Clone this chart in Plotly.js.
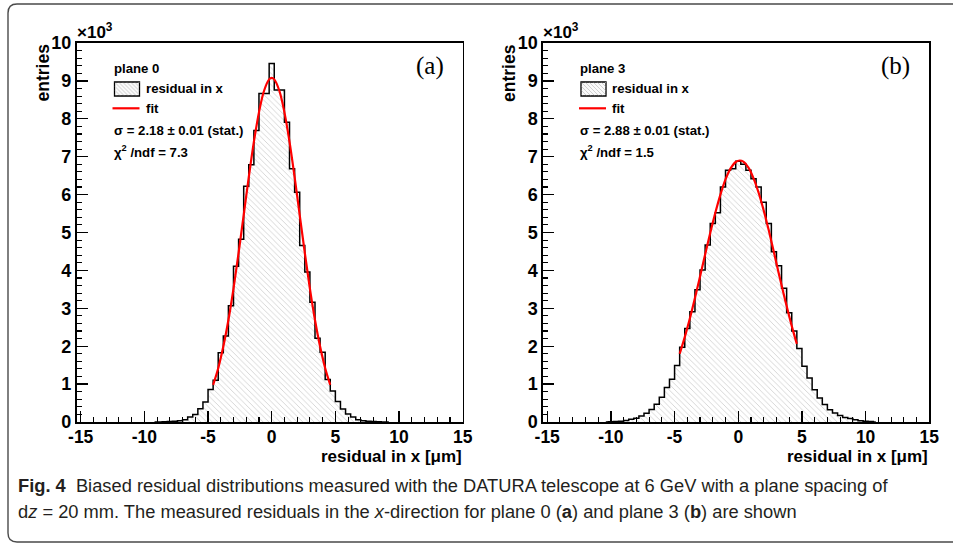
<!DOCTYPE html>
<html>
<head>
<meta charset="utf-8">
<script src="https://cdn.plot.ly/plotly-3.0.1.min.js"></script>
<style>html,body{margin:0;padding:0;background:#fff;}#chart{width:953px;height:544px;}</style>
</head>
<body>
<div id="chart"></div>
<script>
// ---- data (entries in units of 10^3) ----
const xLeft = [-9.2,-8.8,-8.4,-8.0,-7.6,-7.2,-6.8,-6.4,-6.0,-5.6,-5.2,-4.8,-4.4,-4.0,-3.6,-3.2,-2.8,-2.4,-2.0,-1.6,-1.2,-0.8,-0.4,0,0.4,0.8,1.2,1.6,2.0,2.4,2.8,3.2,3.6,4.0,4.4,4.8,5.2,5.6,6.0,6.4,6.8,7.2,7.6,8.0,8.4,8.8,9.2];
const yLeft = [0,0,0.005,0.01,0.02,0.03,0.06,0.13,0.2,0.35,0.53,0.86,1.1,1.83,2.27,3.07,4.11,4.82,6.22,6.79,7.69,8.67,8.67,9.46,8.76,8.76,7.91,6.68,6.06,4.66,3.96,3.16,2.21,1.84,1.12,0.82,0.54,0.34,0.21,0.13,0.06,0.03,0.02,0.01,0.005,0,0];
const xFitLeft = [-4.6,-4.2,-3.8,-3.4,-3.0,-2.6,-2.2,-1.8,-1.4,-1.0,-0.6,-0.2,0,0.2,0.6,1.0,1.4,1.8,2.2,2.6,3.0,3.4,3.8,4.2,4.6];
const yFitLeft = [0.98,1.42,1.99,2.69,3.52,4.46,5.46,6.46,7.39,8.17,8.74,9.04,9.08,9.04,8.74,8.17,7.39,6.46,5.46,4.46,3.52,2.69,1.99,1.42,0.98];

const xRight = [-10.4,-10.0,-9.6,-9.2,-8.8,-8.4,-8.0,-7.6,-7.2,-6.8,-6.4,-6.0,-5.6,-5.2,-4.8,-4.4,-4.0,-3.6,-3.2,-2.8,-2.4,-2.0,-1.6,-1.2,-0.8,-0.4,0,0.4,0.8,1.2,1.6,2.0,2.4,2.8,3.2,3.6,4.0,4.4,4.8,5.2,5.6,6.0,6.4,6.8,7.2,7.6,8.0,8.4,8.8,9.2,9.6,10.0,10.4,10.8];
const yRight = [0,0.005,0.01,0.02,0.04,0.07,0.1,0.16,0.23,0.33,0.47,0.65,0.91,1.13,1.49,1.97,2.47,2.91,3.49,4.01,4.67,5.24,5.52,6.2,6.64,6.68,6.88,6.8,6.64,6.42,6.2,5.8,5.24,4.49,4.12,3.53,2.88,2.40,1.94,1.47,1.16,0.85,0.63,0.46,0.32,0.24,0.17,0.12,0.09,0.06,0.03,0.02,0.01,0];
const xFitRight = [-4.6,-4.2,-3.8,-3.4,-3.0,-2.6,-2.2,-1.8,-1.4,-1.0,-0.6,-0.2,0.12,0.4,0.8,1.2,1.6,2.0,2.4,2.8,3.2,3.6,4.0,4.3,4.6];
const yFitRight = [1.80,2.24,2.73,3.27,3.84,4.42,4.99,5.52,6.00,6.40,6.69,6.86,6.9,6.87,6.71,6.43,6.05,5.58,5.05,4.48,3.89,3.33,2.79,2.41,2.06];

const xTicks = [-15,-10,-5,0,5,10,15];
const yTicks = [0,1,2,3,4,5,6,7,8,9,10];
const panels = [
  {plane: 'plane 0', sigma: '2.18', chi2: '7.3', tag: '(a)'},
  {plane: 'plane 3', sigma: '2.88', chi2: '1.5', tag: '(b)'}
];

// ---- helpers: pixel -> paper ----
const W = 953, H = 544;
const X = p => p / W;
const Y = p => (H - p) / H;

const FONT = 'Liberation Sans, Arial, Helvetica, sans-serif';
const hatch = {shape: '\\', fgcolor: '#c8c8c8', bgcolor: '#ffffff', size: 4, solidity: 0.18};

function histTrace(x, y, xa, ya) {
  return {x: x, y: y, xaxis: xa, yaxis: ya, type: 'scatter', mode: 'lines',
    line: {shape: 'hvh', color: '#000', width: 1.5},
    fill: 'tozeroy', fillcolor: '#ffffff', fillpattern: hatch,
    hoverinfo: 'skip', showlegend: false};
}
function fitTrace(x, y, xa, ya) {
  return {x: x, y: y, xaxis: xa, yaxis: ya, type: 'scatter', mode: 'lines',
    line: {shape: 'spline', color: '#ff0000', width: 2.2}, hoverinfo: 'skip', showlegend: false};
}

const data = [
  histTrace(xLeft, yLeft, 'x', 'y'),
  fitTrace(xFitLeft, yFitLeft, 'x', 'y'),
  histTrace(xRight, yRight, 'x2', 'y2'),
  fitTrace(xFitRight, yFitRight, 'x2', 'y2')
];

function xAxis(dom, anchor) {
  return {domain: dom, anchor: anchor, range: [-15.33, 15], tickmode: 'array', tickvals: xTicks,
    ticktext: xTicks.map(String), ticks: 'inside', ticklen: 11, tickwidth: 1.3, tickcolor: '#000',
    ticklabelstandoff: -2,
    minor: {ticks: 'inside', ticklen: 5, tickwidth: 1.1, dtick: 1, tick0: 0, tickcolor: '#000', showgrid: false},
    showline: true, linecolor: '#000', linewidth: 1.6, mirror: true, showgrid: false, zeroline: false,
    tickfont: {family: FONT, size: 17.5, color: '#000', weight: 'bold'}, fixedrange: true};
}
function yAxis(dom, anchor) {
  return {domain: dom, anchor: anchor, range: [0, 10], tickmode: 'array', tickvals: yTicks,
    ticktext: yTicks.map(String), ticks: 'inside', ticklen: 11, tickwidth: 1.3, tickcolor: '#000',
    minor: {ticks: 'inside', ticklen: 5, tickwidth: 1.1, dtick: 0.2, tick0: 0, tickcolor: '#000', showgrid: false},
    showline: true, linecolor: '#000', linewidth: 1.6, mirror: true, showgrid: false, zeroline: false,
    tickfont: {family: FONT, size: 18, color: '#000', weight: 'bold'}, fixedrange: true};
}

const yDom = [Y(422), Y(43)];
const frames = [{l: 76.5, r: 462.7}, {l: 543, r: 929.3}];

const annotations = [];
const shapes = [];

// figure border (rounded)
(function () {
  const l = 8, t = 4, r = 975, b = 542, rad = 9;
  shapes.push({type: 'path', xref: 'paper', yref: 'paper', line: {color: '#4a4a4a', width: 1.4},
    path: `M ${X(l+rad)},${Y(t)} L ${X(r)},${Y(t)} L ${X(r)},${Y(b)} L ${X(l+rad)},${Y(b)} Q ${X(l)},${Y(b)} ${X(l)},${Y(b-rad)} L ${X(l)},${Y(t+rad)} Q ${X(l)},${Y(t)} ${X(l+rad)},${Y(t)} Z`});
})();

panels.forEach((p, i) => {
  const f = frames[i];
  const lx = f.l + 38;   // legend left
  // y-axis title
  annotations.push({xref: 'paper', yref: 'paper', x: X(f.l - 34), y: Y(42), xanchor: 'center', yanchor: 'top',
    text: '<b>entries</b>', textangle: -90, showarrow: false, font: {family: FONT, size: 17.5, color: '#000'}});
  // x10^3
  annotations.push({xref: 'paper', yref: 'paper', x: X(f.l - 2), y: Y(44), xanchor: 'left', yanchor: 'bottom',
    text: '<b>×10<sup>3</sup></b>', showarrow: false, font: {family: FONT, size: 17, color: '#000'}});
  // x-axis title
  annotations.push({xref: 'paper', yref: 'paper', x: X(f.r + 1), y: Y(456), xanchor: 'right', yanchor: 'middle',
    text: '<b>residual in x [μm]</b>', showarrow: false, font: {family: FONT, size: 17, color: '#000'}});
  // panel tag
  annotations.push({xref: 'paper', yref: 'paper', x: X(f.r - 17), y: Y(66), xanchor: 'right', yanchor: 'middle',
    text: p.tag, showarrow: false, font: {family: 'Liberation Serif, Times New Roman, serif', size: 25, color: '#000'}});
  // legend texts
  const lf = {family: FONT, size: 13.2, color: '#000'};
  annotations.push({xref: 'paper', yref: 'paper', x: X(lx - 3), y: Y(68.7), xanchor: 'left', yanchor: 'middle',
    text: '<b>' + p.plane + '</b>', showarrow: false, font: lf});
  annotations.push({xref: 'paper', yref: 'paper', x: X(lx + 29), y: Y(89), xanchor: 'left', yanchor: 'middle',
    text: '<b>residual in x</b>', showarrow: false, font: lf});
  annotations.push({xref: 'paper', yref: 'paper', x: X(lx + 29), y: Y(109), xanchor: 'left', yanchor: 'middle',
    text: '<b>fit</b>', showarrow: false, font: lf});
  annotations.push({xref: 'paper', yref: 'paper', x: X(lx - 3), y: Y(130.5), xanchor: 'left', yanchor: 'middle',
    text: '<b>σ = ' + p.sigma + ' ± 0.01 (stat.)</b>', showarrow: false, font: lf});
  annotations.push({xref: 'paper', yref: 'paper', x: X(lx - 3), y: Y(151.5), xanchor: 'left', yanchor: 'middle',
    text: '<b>χ<sup>2</sup> /ndf = ' + p.chi2 + '</b>', showarrow: false, font: lf});
  // legend hatched box
  const bx0 = lx, bx1 = lx + 25, by0 = 82, by1 = 96;
  shapes.push({type: 'rect', xref: 'paper', yref: 'paper', x0: X(bx0), x1: X(bx1), y0: Y(by1), y1: Y(by0),
    fillcolor: '#f9f9f9', line: {color: '#000', width: 1.3}});
  for (let k = -12; k < 28; k += 4) {
    let xa = bx0 + k, ya = by0, xb = bx0 + k + 14, yb = by1;
    if (xa < bx0) { ya = by0 + (bx0 - xa); xa = bx0; }
    if (xb > bx1) { yb = by1 - (xb - bx1); xb = bx1; }
    if (xb <= xa || yb <= ya) continue;
    shapes.push({type: 'line', xref: 'paper', yref: 'paper', x0: X(xa + 0.8), y0: Y(ya + 0.8), x1: X(xb - 0.8), y1: Y(yb - 0.8),
      line: {color: '#d0d0d0', width: 1}});
  }
  // legend red line
  shapes.push({type: 'line', xref: 'paper', yref: 'paper', x0: X(lx - 2), x1: X(lx + 25), y0: Y(108.3), y1: Y(108.3),
    line: {color: '#ff0000', width: 2.2}});
});

// caption
const capFont = {family: 'Liberation Sans Narrow, Arial Narrow, Liberation Sans, sans-serif', size: 18.3, color: '#231f20'};
annotations.push({xref: 'paper', yref: 'paper', x: X(16), y: Y(485), xanchor: 'left', yanchor: 'middle',
  text: '<b>Fig. 4</b>  Biased residual distributions measured with the DATURA telescope at 6 GeV with a plane spacing of',
  showarrow: false, font: capFont});
annotations.push({xref: 'paper', yref: 'paper', x: X(16), y: Y(511), xanchor: 'left', yanchor: 'middle',
  text: 'd<i>z</i> = 20 mm. The measured residuals in the <i>x</i>-direction for plane 0 (<b>a</b>) and plane 3 (<b>b</b>) are shown',
  showarrow: false, font: capFont});

const layout = {
  width: W, height: H, margin: {l: 0, r: 0, t: 0, b: 0},
  paper_bgcolor: '#fff', plot_bgcolor: '#fff', showlegend: false,
  xaxis: xAxis([X(frames[0].l), X(frames[0].r)], 'y'),
  yaxis: yAxis(yDom, 'x'),
  xaxis2: xAxis([X(frames[1].l), X(frames[1].r)], 'y2'),
  yaxis2: yAxis(yDom, 'x2'),
  annotations: annotations,
  shapes: shapes
};

Plotly.newPlot('chart', data, layout, {displayModeBar: false, staticPlot: true});
</script>
</body>
</html>
